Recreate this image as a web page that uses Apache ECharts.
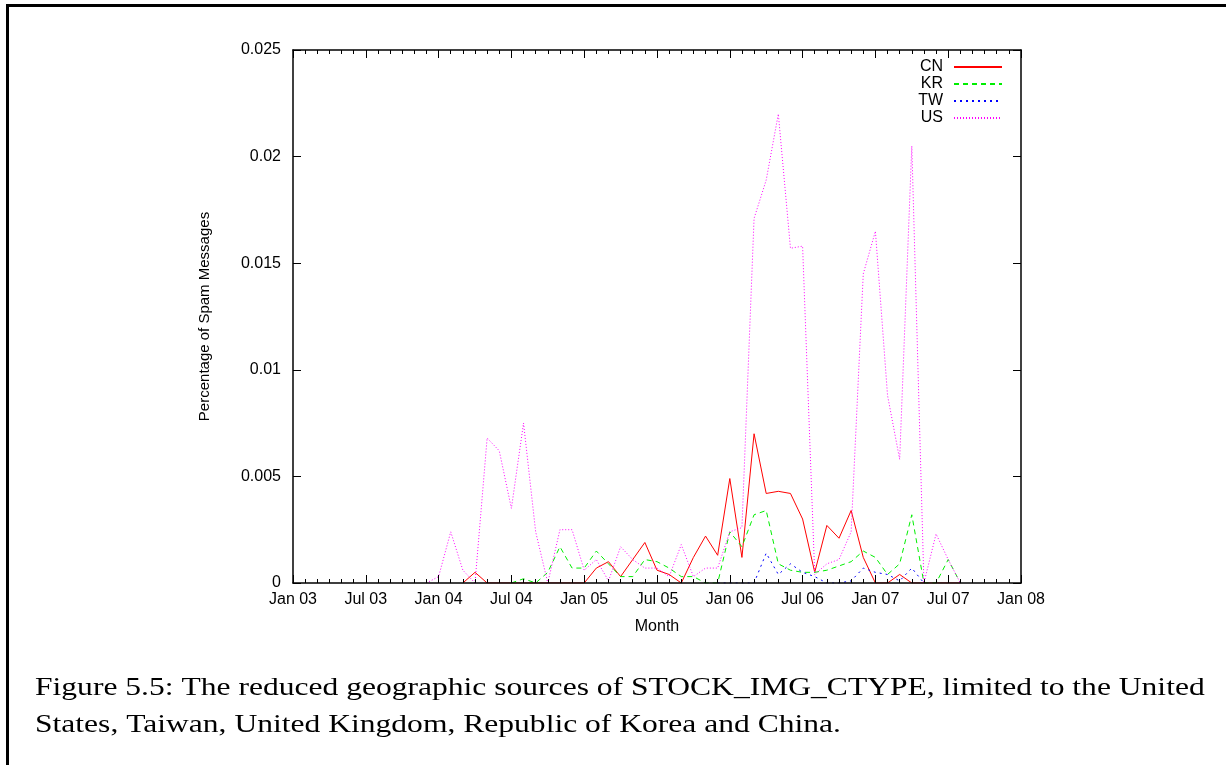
<!DOCTYPE html>
<html>
<head>
<meta charset="utf-8">
<title>STOCK_IMG_CTYPE sources</title>
<script src="https://cdn.jsdelivr.net/npm/echarts@6/dist/echarts.min.js"></script>
<style>
  html, body { margin: 0; padding: 0; background: #fff; }
  #chart { width: 1226px; height: 765px; }
</style>
</head>
<body>
<div id="chart"></div>
<script>
// x ticks every 6 months, month index 0 = Jan 03
const xTickLabels = ['Jan 03', 'Jul 03', 'Jan 04', 'Jul 04', 'Jan 05', 'Jul 05',
  'Jan 06', 'Jul 06', 'Jan 07', 'Jul 07', 'Jan 08'];

// each series: first month index + monthly values
const cnStart = 14;
const cnValues = [0, 0.0005, 0, 0, 0, 0, 0, 0, 0, 0, 0,
  0.0007, 0.0010, 0.0003, 0.0011, 0.0019, 0.0006, 0.0004, 0, 0.0012, 0.0022, 0.0013,
  0.0049, 0.0012, 0.0070, 0.0042, 0.0043, 0.0042, 0.0030, 0.0005, 0.0027, 0.0021, 0.0034, 0.0012,
  0, 0, 0.0004, 0, 0, 0, 0, 0];

const krStart = 18;
const krValues = [0, 0.0002, 0, 0.0005, 0.0017, 0.0007,
  0.0007, 0.0015, 0.0009, 0.0003, 0.0003, 0.0011, 0.0010, 0.0007, 0.0003, 0.0003, 0, 0,
  0.0024, 0.0017, 0.0032, 0.0034, 0.0009, 0.0006, 0.0005, 0.0005, 0.0006, 0.0008, 0.0010, 0.0015,
  0.0012, 0.0004, 0.0009, 0.0032, 0, 0, 0.0011, 0];

const twStart = 35;
const twValues = [0,
  0, 0, 0, 0.0014, 0.0004, 0.0009, 0.0005, 0.0003, 0, 0, 0.0001, 0.0007,
  0.0005, 0.0004, 0.0001, 0.0007, 0];

const usStart = 11;
const usValues = [0,
  0.0003, 0.0024, 0.0006, 0, 0.0068, 0.0062, 0.0035, 0.0075, 0.0024, 0, 0.0025, 0.0025,
  0.0006, 0.0011, 0.0001, 0.0017, 0.0011, 0.0007, 0.0007, 0.0003, 0.0018, 0.0003, 0.0007, 0.0007,
  0.0024, 0.0026, 0.0171, 0.0189, 0.0220, 0.0157, 0.0158, 0.0004, 0.0009, 0.0011, 0.0024, 0.0145,
  0.0165, 0.0088, 0.0058, 0.0205, 0, 0.0023, 0.0011, 0];

const captionLines = [
  'Figure 5.5: The reduced geographic sources of STOCK_IMG_CTYPE, limited to the United',
  'States, Taiwan, United Kingdom, Republic of Korea and China.'
];

const toPairs = (start, values) => values.map((v, i) => [start + i, v]);

const sansFont = '"Liberation Sans", Arial, sans-serif';
const captionFont = '26px "Liberation Serif", "Times New Roman", serif';

const makeSeries = (name, color, type, start, values) => ({
  name: name,
  type: 'line',
  symbol: 'none',
  smooth: false,
  z: 2,
  data: toPairs(start, values),
  lineStyle: { color: color, width: 1, type: type },
  itemStyle: { color: color }
});

const chart = echarts.init(document.getElementById('chart'));

const xBase = {
  type: 'value',
  min: 0,
  max: 60,
  interval: 6,
  z: 10,
  splitLine: { show: false },
  axisLine: { show: true, onZero: false, lineStyle: { color: '#000', width: 1.5 } },
  axisTick: { show: true, inside: true, length: 8, lineStyle: { color: '#000' } },
  minorTick: { show: true, splitNumber: 6, length: 4, lineStyle: { color: '#000' } }
};

const yBase = {
  type: 'value',
  min: 0,
  max: 0.025,
  interval: 0.005,
  z: 10,
  splitLine: { show: false },
  axisLine: { show: true, onZero: false, lineStyle: { color: '#000', width: 1.5 } },
  axisTick: { show: true, inside: true, length: 8, lineStyle: { color: '#000' } }
};

chart.setOption({
  backgroundColor: '#fff',
  animation: false,
  grid: { left: 293, right: 205, top: 50, bottom: 182 },
  legend: {
    orient: 'vertical',
    right: 218,
    top: 54,
    align: 'right',
    itemWidth: 48,
    itemHeight: 15,
    itemGap: 1,
    data: ['CN', 'KR', 'TW', 'US'],
    itemStyle: { opacity: 0 },
    textStyle: { fontFamily: sansFont, fontSize: 16, lineHeight: 16, color: '#000', padding: [0, 6, 0, 0] }
  },
  xAxis: [
    Object.assign({}, xBase, {
      position: 'bottom',
      name: 'Month',
      nameLocation: 'middle',
      nameGap: 36,
      nameTextStyle: { fontFamily: sansFont, fontSize: 16, color: '#000' },
      axisLabel: {
        fontFamily: sansFont, fontSize: 16, color: '#000', margin: 9,
        formatter: (v) => xTickLabels[Math.round(v / 6)]
      }
    }),
    Object.assign({}, xBase, { position: 'top', axisLabel: { show: false } })
  ],
  yAxis: [
    Object.assign({}, yBase, {
      position: 'left',
      name: 'Percentage of Spam Messages',
      nameLocation: 'middle',
      nameGap: 81,
      nameTextStyle: { fontFamily: sansFont, fontSize: 15, color: '#000' },
      axisLabel: { fontFamily: sansFont, fontSize: 16, color: '#000', margin: 12 }
    }),
    Object.assign({}, yBase, { position: 'right', axisLabel: { show: false } })
  ],
  series: [
    makeSeries('CN', '#ff0000', 'solid', cnStart, cnValues),
    makeSeries('KR', '#00ee00', [5, 4], krStart, krValues),
    makeSeries('TW', '#0000ff', [2, 4], twStart, twValues),
    makeSeries('US', '#ff00ff', [1, 2], usStart, usValues)
  ],
  graphic: [
    { type: 'line', shape: { x1: 6, y1: 5.5, x2: 1226, y2: 5.5 }, style: { stroke: '#000', lineWidth: 3 } },
    { type: 'line', shape: { x1: 7.5, y1: 4, x2: 7.5, y2: 765 }, style: { stroke: '#000', lineWidth: 3 } },
    {
      type: 'text', x: 35, y: 675, scaleX: 1.214,
      style: { text: captionLines[0], font: captionFont, fill: '#000' }
    },
    {
      type: 'text', x: 35, y: 712, scaleX: 1.214,
      style: { text: captionLines[1], font: captionFont, fill: '#000' }
    }
  ]
});
</script>
</body>
</html>
